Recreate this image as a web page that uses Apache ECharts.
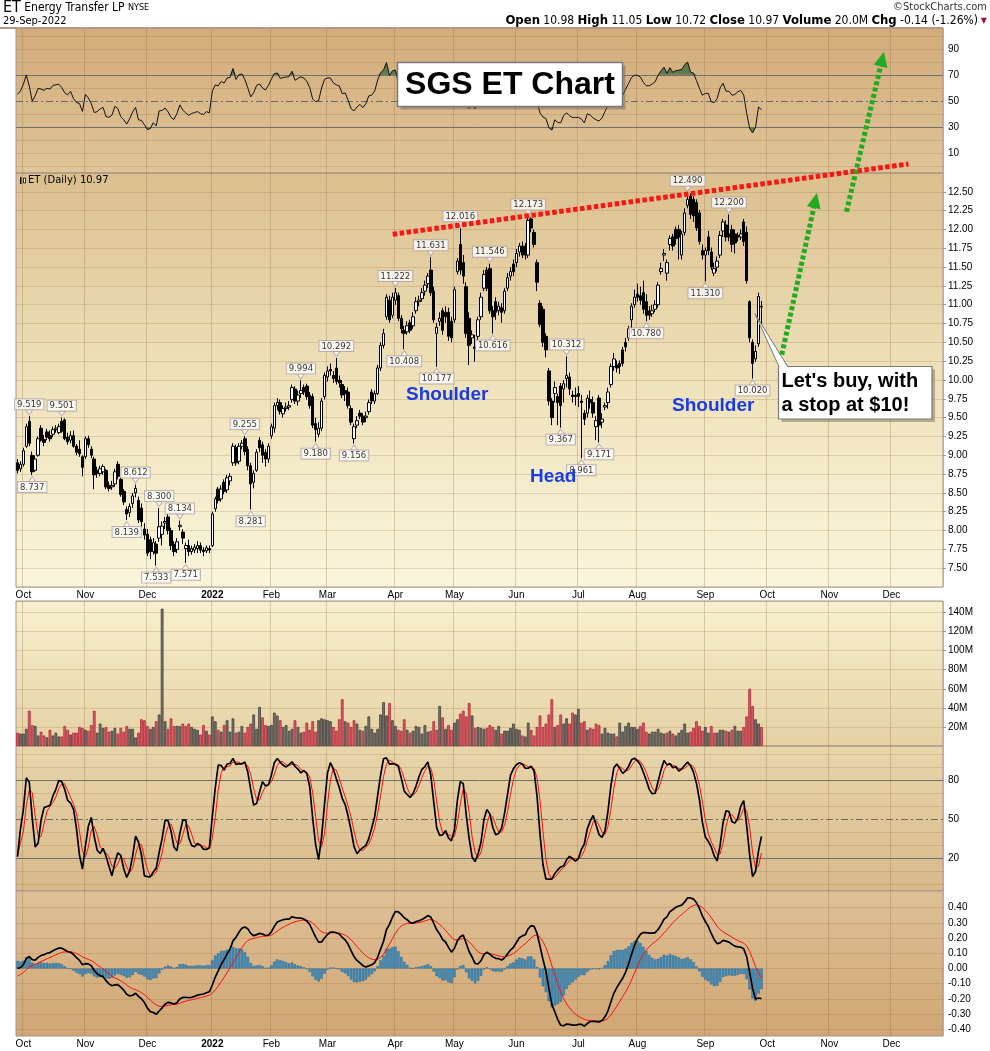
<!DOCTYPE html>
<html><head><meta charset="utf-8">
<script src="https://cdn.jsdelivr.net/npm/echarts@6/dist/echarts.min.js"></script>
<style>html,body{margin:0;padding:0;background:#fff}#c{width:990px;height:1051px}</style>
</head><body><div id="c"></div>
<script>
// ---------------- DATA ----------------
const HOLIDAYS = ['2021-11-25','2021-12-24','2022-01-17','2022-02-21','2022-04-15','2022-05-30','2022-06-20','2022-07-04','2022-09-05','2022-11-24'];
const FIRST_DAY = [2021, 8, 29];       // 29-Sep-2021 (month 0-based)
const N_SLOTS = 314;                   // trading-day slots on the axis (data + empty future)
const MONTHS = ['Jan','Feb','Mar','Apr','May','Jun','Jul','Aug','Sep','Oct','Nov','Dec'];

// candles: [open, close, low, high]
const ohlcSep21 = [[8.90,8.80,8.76,8.95],[8.82,8.88,8.78,8.92]];
const ohlcOct21 = [
[8.88,9.06,8.85,9.10],[9.12,9.38,9.10,9.42],[9.45,9.16,9.12,9.519],[9.00,8.78,8.737,9.05],[8.80,8.95,8.78,9.00],
[9.00,9.22,8.98,9.25],[9.36,9.20,9.18,9.40],[9.21,9.17,9.12,9.27],[9.31,9.24,9.20,9.35],[9.26,9.22,9.18,9.33],
[9.28,9.34,9.24,9.38],[9.34,9.36,9.30,9.40],[9.30,9.38,9.28,9.42],[9.45,9.32,9.30,9.501],[9.47,9.22,9.20,9.49],
[9.24,9.18,9.14,9.30],[9.20,9.26,9.16,9.32],[9.26,9.12,9.10,9.33],[9.12,9.04,9.00,9.15],[9.08,9.02,8.98,9.20],
[8.98,8.84,8.72,9.00]];
const ohlcNov21 = [
[8.98,9.22,8.95,9.25],[9.22,9.14,9.10,9.26],[9.08,9.00,8.96,9.12],[8.95,8.74,8.55,8.98],[8.80,8.76,8.70,8.85],
[8.76,8.82,8.72,8.86],[8.78,8.85,8.74,8.88],[8.80,8.58,8.55,8.82],[8.60,8.56,8.52,8.65],[8.58,8.60,8.54,8.66],
[8.62,8.78,8.58,8.82],[8.88,8.72,8.68,8.92],[8.68,8.48,8.45,8.70],[8.52,8.38,8.34,8.55],[8.28,8.22,8.139,8.32],
[8.24,8.32,8.18,8.36],[8.36,8.46,8.30,8.50],[8.50,8.56,8.44,8.612],[8.40,8.14,8.10,8.45],[8.30,8.12,8.05,8.36],
[8.02,7.94,7.88,8.10]];
const ohlcDec21 = [
[7.95,7.70,7.66,8.02],[7.88,7.72,7.62,7.92],[7.72,7.84,7.68,7.90],[7.82,7.70,7.533,7.86],[7.90,8.05,7.85,8.30],
[7.95,8.06,7.80,8.12],[8.10,8.12,8.02,8.18],[8.18,8.00,7.95,8.22],[8.00,7.80,7.74,8.04],[7.82,7.72,7.66,7.86],
[7.75,7.85,7.70,7.90],[8.05,8.07,8.00,8.134],[7.98,7.90,7.82,8.02],[7.76,7.80,7.571,7.84],[7.80,7.72,7.66,7.88],
[7.72,7.76,7.68,7.80],[7.74,7.78,7.70,7.82],[7.76,7.80,7.70,7.86],[7.80,7.74,7.70,7.84],[7.74,7.72,7.66,7.78],
[7.73,7.77,7.70,7.80],[7.76,7.74,7.70,7.80]];
const ohlcJan22 = [
[7.80,8.22,7.78,8.25],[8.29,8.42,8.25,8.45],[8.55,8.40,8.36,8.58],[8.42,8.55,8.38,8.60],[8.64,8.52,8.48,8.68],
[8.54,8.70,8.50,8.74],[8.66,8.72,8.60,8.76],[8.90,9.12,8.86,9.16],[9.10,8.90,8.86,9.14],[8.92,9.12,8.88,9.16],
[9.12,9.16,9.08,9.20],[9.22,9.05,9.00,9.255],[9.08,8.86,8.80,9.12],[8.86,8.62,8.281,8.90],[8.64,8.76,8.56,8.80],
[8.80,9.04,8.78,9.08],[9.20,9.10,9.04,9.24],[9.14,9.00,8.90,9.18],[9.04,8.95,8.85,9.08],[8.95,9.12,8.90,9.16]];
const ohlcFeb22 = [
[9.26,9.38,9.22,9.42],[9.36,9.66,9.30,9.70],[9.66,9.70,9.60,9.76],[9.70,9.58,9.54,9.74],[9.55,9.62,9.50,9.66],
[9.62,9.64,9.58,9.70],[9.64,9.66,9.60,9.72],[9.74,9.90,9.70,9.94],[9.88,9.72,9.68,9.92],[9.72,9.80,9.66,9.86],
[9.82,9.86,9.76,9.994],[9.90,9.84,9.80,9.94],[9.92,9.78,9.74,9.95],[9.80,9.66,9.62,9.84],[9.78,9.40,9.36,9.82],
[9.42,9.34,9.18,9.50],[9.28,9.36,9.24,9.44],[9.36,9.72,9.32,9.76],[9.78,10.06,9.74,10.10]];
const ohlcMar22 = [
[10.04,10.12,9.98,10.18],[10.14,10.12,10.06,10.22],[10.06,10.02,9.96,10.12],[10.16,9.98,9.94,10.292],[10.00,9.96,9.90,10.06],
[9.94,9.80,9.76,10.00],[9.86,9.82,9.72,9.92],[9.84,9.66,9.62,9.90],[9.62,9.44,9.40,9.66],[9.22,9.38,9.156,9.42],
[9.40,9.46,9.36,9.52],[9.56,9.52,9.48,9.60],[9.52,9.44,9.40,9.56],[9.50,9.52,9.44,9.58],[9.58,9.70,9.54,9.74],
[9.84,9.72,9.68,9.88],[9.72,9.82,9.68,9.86],[9.82,10.16,9.80,10.20],[10.16,10.46,10.12,10.50],[10.46,10.62,10.42,10.68],
[10.84,11.10,10.80,11.14],[11.06,10.80,10.76,11.12],[10.86,11.10,10.82,11.16]];
const ohlcApr22 = [
[11.06,11.16,11.00,11.222],[11.12,10.82,10.78,11.16],[10.82,10.68,10.62,10.86],[10.66,10.62,10.408,10.72],[10.64,10.72,10.60,10.78],
[10.76,10.66,10.62,10.80],[10.72,10.84,10.68,10.90],[10.92,11.04,10.88,11.10],[11.04,11.06,10.98,11.12],[11.08,11.16,11.04,11.22],
[11.18,11.26,11.12,11.32],[11.28,11.38,11.22,11.42],[11.46,11.16,11.12,11.631],[11.18,10.80,10.76,11.24],[10.62,10.70,10.177,10.76],
[10.78,10.82,10.72,10.90],[10.92,10.66,10.60,10.96],[10.90,10.84,10.76,10.98],[10.90,10.58,10.52,10.96],[10.78,10.56,10.50,10.84]];
const ohlcMay22 = [
[10.80,11.20,10.76,11.24],[11.44,11.58,11.40,11.62],[11.80,11.46,11.40,12.016],[11.56,11.38,11.28,11.66],[11.24,10.62,10.56,11.30],
[10.82,10.46,10.20,10.90],[10.56,10.60,10.48,10.66],[10.44,10.42,10.24,10.60],[10.58,10.80,10.52,10.84],[10.84,11.10,10.80,11.16],
[11.22,11.40,11.18,11.46],[11.46,11.22,11.18,11.50],[11.48,10.92,10.88,11.546],[10.92,10.84,10.616,10.98],[11.04,10.90,10.80,11.10],
[10.92,10.98,10.86,11.04],[10.96,10.90,10.76,11.02],[10.92,11.18,10.88,11.22],[11.22,11.36,11.18,11.42],[11.38,11.44,11.32,11.50],
[11.54,11.44,11.38,11.60]];
const ohlcJun22 = [
[11.56,11.68,11.50,11.74],[11.70,11.78,11.64,11.82],[11.78,11.66,11.62,11.84],[11.78,11.66,11.60,11.82],[11.66,12.12,11.62,12.173],
[12.14,12.02,11.96,12.16],[11.96,11.80,11.76,12.00],[11.56,11.30,11.18,11.60],[11.02,10.74,10.70,11.06],[10.94,10.50,10.44,10.98],
[10.58,10.40,10.30,10.62],[10.12,9.72,9.66,10.16],[9.72,9.50,9.40,9.76],[9.82,9.90,9.70,9.98],[9.78,9.70,9.40,9.82],
[9.92,9.66,9.367,9.96],[9.88,9.95,9.70,10.00],[10.02,10.06,9.90,10.312],[10.04,9.88,9.80,10.10],[9.80,9.78,9.70,9.86],
[9.80,9.78,9.66,9.90]];
const ohlcJul22 = [
[9.82,9.78,9.64,9.92],[9.72,9.70,8.961,9.80],[9.56,9.48,9.40,9.60],[9.56,9.76,9.50,9.80],[9.74,9.70,9.62,9.86],
[9.70,9.56,9.50,9.78],[9.38,9.46,9.20,9.52],[9.76,9.40,9.171,9.80],[9.44,9.48,9.36,9.56],[9.64,9.66,9.60,9.70],
[9.70,9.84,9.62,9.90],[9.94,10.18,9.90,10.22],[10.18,10.28,10.12,10.36],[10.20,10.16,10.10,10.26],[10.22,10.18,10.08,10.26],
[10.40,10.22,10.18,10.44],[10.50,10.44,10.38,10.56],[10.56,10.68,10.52,10.72],[10.80,10.98,10.62,11.02],[11.00,11.10,10.96,11.20]];
const ohlcAug22 = [
[11.14,11.10,11.04,11.28],[11.12,11.06,11.00,11.24],[11.16,10.94,10.88,11.32],[11.04,10.86,10.78,11.14],[10.92,10.86,10.80,10.98],
[10.88,10.92,10.84,11.00],[10.94,11.00,10.90,11.06],[11.00,11.26,10.96,11.30],[11.44,11.48,11.40,11.56],[11.66,11.68,11.58,11.74],
[11.42,11.56,11.32,11.60],[11.80,11.88,11.72,11.92],[11.90,11.78,11.72,11.94],[12.00,11.88,11.80,12.04],[12.00,11.90,11.60,12.06],
[11.66,11.94,11.60,11.98],[11.96,12.22,11.92,12.28],[12.32,12.40,12.28,12.49],[12.44,12.20,12.14,12.48],[12.40,12.18,12.10,12.44],
[12.36,12.02,11.98,12.40],[12.22,11.84,11.80,12.26],[11.72,11.66,11.60,11.80]];
const ohlcSep22 = [
[11.66,11.72,11.31,11.76],[11.90,11.72,11.66,11.98],[11.70,11.50,11.46,11.76],[11.42,11.48,11.38,11.56],[11.50,11.58,11.44,11.64],
[11.66,11.92,11.62,11.98],[11.98,12.10,11.90,12.14],[12.06,11.90,11.84,12.12],[11.94,11.90,11.84,12.20],[12.00,11.80,11.70,12.06],
[11.94,11.82,11.68,12.00],[11.92,11.90,11.84,11.96],[11.90,11.94,11.86,12.00],[12.10,11.84,11.78,12.14],[11.96,11.32,11.28,12.04],
[11.04,10.56,10.50,11.06],[10.50,10.22,10.02,10.54],[10.28,10.38,10.24,10.46],[10.48,11.11,10.44,11.16],[10.98,10.97,10.72,11.05]];

// volume, millions, one per trading day
const volumeM = [
14,13,
13,18,37,22,21,11,15,11,9,17,11,14,10,10,21,17,12,14,14,20,19,
17,16,22,37,14,23.5,19,20,15,16,19,13,19,15,21,18,18,9,14,28,27,
21,18,20,26,33,144,26,18,29,21,21,21,23.5,21,23.5,20,18,17,12,22,16,12,
31,26,17,15,22,27,15,29,14,15,21,14,20,23.5,33,18,41,30,22,21,
22,35,32,27,20,22,16,18,27,20,14,15,24.5,17,26,15,27,29,28,
27,26,20,16,28,49,26,24.5,20,27,23.5,17,16,21,31,18,14,18,33,46,32,45,27,
21,17,16,28,17,14,16,21,20,13,22,15,16,26,17,42,30,18,22,17,
24.5,28,34,37,31,45,32,19,20,19,18,19,22,20,17,21,13,16,16,19,23.5,
18,17,11,10,24.5,17,11,20,32,20,23.5,33,49,20,22,33,23.5,29,23.5,35,33,
39,24.5,26,17,19,18,23.5,22,13,19,14,13,13,10,24.5,15,21,24.5,20,20,
18,21,24.5,15,13,15,15,18,14,13,14,16,13,11,14,17,23.5,14,15,19,26,21,16,
20,14,21,14,14,17,17,16,15,17,21,16,16,20,31,60,42,28,23.5,20];

// labelled pivots (day index, price)
const pivotHighIdx = [4,15,40,48,55,77,96,108,128,140,150,160,173,186,227,241];
const pivotHighVal = [9.519,9.501,8.612,8.300,8.134,9.255,9.994,10.292,11.222,11.631,12.016,11.546,12.173,10.312,12.490,12.200];
const pivotLowIdx  = [5,37,47,57,79,101,114,131,142,161,184,191,197,213,233,249];
const pivotLowVal  = [8.737,8.139,7.533,7.571,8.281,9.180,9.156,10.408,10.177,10.616,9.367,8.961,9.171,10.780,11.310,10.020];

// indicator starting states
const RSI_SEED = {gain: 0.055, loss: 0.045};   // RSI ~55 at left edge
const MACD_SIGNAL_SEED = -0.05;                  // signal line at left edge

// annotations in (day index, price)
const necklinePts = [[127.1, 11.936], [301.8, 12.87]];
const arrow1Pts = [[258.9, 10.337], [270.8, 12.483]];
const arrow2Pts = [[280.8, 12.235], [293.5, 14.36]];
const calloutTip = [249.8, 10.88];

// ---------------- BUILD ----------------
function buildDays(){
  const out=[]; const d=new Date(Date.UTC(FIRST_DAY[0],FIRST_DAY[1],FIRST_DAY[2]));
  while(out.length<N_SLOTS){ const w=d.getUTCDay(); const s=d.toISOString().slice(0,10);
    if(w!==0&&w!==6&&!HOLIDAYS.includes(s)) out.push(s); d.setUTCDate(d.getUTCDate()+1); }
  return out;
}
const days = buildDays();
const monthStart = new Set();
for(let i=1;i<days.length;i++) if(days[i].slice(5,7)!==days[i-1].slice(5,7)) monthStart.add(i);
const isMS = (i)=>monthStart.has(i);

const candles = [].concat(ohlcSep21,ohlcOct21,ohlcNov21,ohlcDec21,ohlcJan22,ohlcFeb22,ohlcMar22,ohlcApr22,ohlcMay22,ohlcJun22,ohlcJul22,ohlcAug22,ohlcSep22);
const closes = candles.map(c=>c[1]);
const lows = candles.map(c=>c[2]);
const highs = candles.map(c=>c[3]);

// RSI 14 (Wilder)
const rsi=[]; {let g=RSI_SEED.gain,l=RSI_SEED.loss;
  for(let i=0;i<closes.length;i++){ if(i>0){const ch=closes[i]-closes[i-1]; g=(g*13+Math.max(ch,0))/14; l=(l*13+Math.max(-ch,0))/14;} rsi.push(100-100/(1+g/l)); }}
// Slow stochastic 14,3
const fastK=[], slowK=[], slowD=[];
for(let i=0;i<closes.length;i++){ const a=Math.max(0,i-13); let hh=-1e9,ll=1e9;
  for(let j=a;j<=i;j++){hh=Math.max(hh,highs[j]); ll=Math.min(ll,lows[j]);}
  fastK.push(hh>ll?100*(closes[i]-ll)/(hh-ll):50); }
const sma3=(arr,i)=>{const a=Math.max(0,i-2); let s=0; for(let j=a;j<=i;j++) s+=arr[j]; return s/(i-a+1);};
for(let i=0;i<closes.length;i++) slowK.push(sma3(fastK,i));
for(let i=0;i<closes.length;i++) slowD.push(sma3(slowK,i));
// MACD 12,26,9
const macd=[], signal=[], hist=[]; {let e12=closes[0], e26=closes[0], sg=MACD_SIGNAL_SEED;
  for(let i=0;i<closes.length;i++){ if(i>0){ e12+= (2/13)*(closes[i]-e12); e26+=(2/27)*(closes[i]-e26);} const m=e12-e26; if(i>0) sg+=(2/10)*(m-sg);
    macd.push(m); signal.push(sg); hist.push(m-sg);} }

// ---------------- STYLE ----------------
const AX = "'Liberation Sans', Arial, sans-serif";
const NARROW = "'Liberation Sans Narrow','DejaVu Sans Condensed','Liberation Sans',sans-serif";
const lg=(stops)=>new echarts.graphic.LinearGradient(0,0,0,1,stops.map((c,k)=>({offset:k/(stops.length-1),color:c})));
const GRID_L=16, GRID_R=47;
const panels=[
  {top:28,height:145,bg:['#d3ab7a','#dfc598']},
  {top:173,height:414,bg:['#dbbf8e','#efe2bb','#f9f5db']},
  {top:601,height:145,bg:['#f7f0ce','#e5d1a4']},
  {top:746,height:145,bg:['#e8d6ab','#d8b98a']},
  {top:891,height:145,bg:['#dec096','#d0a674']}
];
const LIGHT='rgba(150,110,65,0.22)';
const grids = panels.map(p=>({left:GRID_L,right:GRID_R,top:p.top,height:p.height,show:true,backgroundColor:lg(p.bg),borderColor:'#a8938a',borderWidth:1}));
const xAxes = panels.map((p,g)=>({
  type:'category', gridIndex:g, data:days, boundaryGap:true,
  axisLine:{show:false}, axisTick:{show:false},
  axisLabel:{show:g===1||g===4, interval:(i)=>isMS(i), margin:3, color:'#000', fontSize:10, fontFamily:AX,
    formatter:(v)=>{const m=+v.slice(5,7); return m===1?'{b|'+v.slice(0,4)+'}':MONTHS[m-1];},
    rich:{b:{fontWeight:'bold',fontSize:10,fontFamily:AX,color:'#000'}}},
  splitLine:{show:true, interval:(i)=>isMS(i), lineStyle:{color:'rgba(140,100,60,0.28)',width:1}}
}));
const plainY=(g,min,max)=>({type:'value',gridIndex:g,min,max,position:'right',axisLabel:{show:false},splitLine:{show:false},axisLine:{show:false},axisTick:{show:false}});
const yAxes=[
  plainY(0,-5.4,106),
  {type:'value',gridIndex:1,min:7.25,max:12.75,interval:0.25,position:'right',
   axisLabel:{formatter:(v)=>v.toFixed(2),fontSize:10,color:'#000',margin:5,fontFamily:AX,showMinLabel:false,showMaxLabel:false},
   splitLine:{lineStyle:{color:LIGHT}},axisLine:{show:false},axisTick:{show:true,length:3,lineStyle:{color:'#999'}}},
  {type:'value',gridIndex:2,min:0,max:152,interval:20,position:'right',
   axisLabel:{formatter:(v)=>v+'M',fontSize:10,color:'#000',margin:5,fontFamily:AX,showMinLabel:false,showMaxLabel:false},
   splitLine:{lineStyle:{color:LIGHT}},axisLine:{show:false},axisTick:{show:true,length:3,lineStyle:{color:'#999'}}},
  plainY(3,-5.4,106.2),
  plainY(4,-0.444,0.51)
];

function levelLines(levels, kind, labelOf){
  return {silent:true, symbol:['none','none'], z:1, animation:false,
    data: levels.map(v=>{
      const k=kind(v);
      const ls = k==='dark'?{color:'#707070',width:1,type:'solid'}:k==='dash'?{color:'#6a6a6a',width:1,type:[7,3,2,3]}:{color:LIGHT,width:1,type:'solid'};
      const lab=labelOf(v);
      return {yAxis:v, lineStyle:ls, label:{show:lab!==null, formatter:lab===null?'':lab, position:'end', distance:5, color:'#000', fontSize:10, fontFamily:AX}};
    })};
}
const rsiLines = levelLines([0,10,20,30,40,50,60,70,80,90,100], v=>v===30||v===70?'dark':v===50?'dash':'light', v=>[10,30,50,70,90].includes(v)?String(v):null);
const stoLines = levelLines([0,10,20,30,40,50,60,70,80,90,100], v=>v===20||v===80?'dark':v===50?'dash':'light', v=>[20,50,80].includes(v)?String(v):null);
const macdLevels=[-0.4,-0.3,-0.2,-0.1,0,0.1,0.2,0.3,0.4];
const macdLines = levelLines(macdLevels, v=>'light', v=>v.toFixed(2));

const OB='#5f7a4c';
const isDown=(i)=>i===0?closes[0]<candles[0][0]:closes[i]<closes[i-1];
const volumeItems = volumeM.map((v,i)=>({value:v, itemStyle: isDown(i)?{color:'#d45c66',borderColor:'#b32a38'}:{color:'#77726c',borderColor:'#44403d'}}));
const series=[
  {type:'line',xAxisIndex:0,yAxisIndex:0,stack:'ob',data:rsi.map(()=>70),symbol:'none',lineStyle:{opacity:0},silent:true},
  {type:'line',xAxisIndex:0,yAxisIndex:0,stack:'ob',data:rsi.map(v=>Math.max(v-70,0)),symbol:'none',lineStyle:{opacity:0},areaStyle:{color:OB,opacity:1},silent:true},
  {type:'line',xAxisIndex:0,yAxisIndex:0,stack:'os',data:rsi.map(v=>Math.min(v,30)),symbol:'none',lineStyle:{opacity:0},silent:true},
  {type:'line',xAxisIndex:0,yAxisIndex:0,stack:'os',data:rsi.map(v=>30-Math.min(v,30)),symbol:'none',lineStyle:{opacity:0},areaStyle:{color:OB,opacity:1},silent:true},
  {type:'line',xAxisIndex:0,yAxisIndex:0,data:rsi,symbol:'none',lineStyle:{color:'#111',width:1},z:3,markLine:rsiLines},
  {type:'candlestick',xAxisIndex:1,yAxisIndex:1,data:candles,barWidth:3,z:3,
   itemStyle:{color:'#ffffff',color0:'#000000',borderColor:'#000000',borderColor0:'#000000',borderWidth:1}},
  {type:'scatter',xAxisIndex:1,yAxisIndex:1,z:6,data:pivotHighIdx.map((ix,k)=>[ix,pivotHighVal[k]]),
   symbol:'triangle',symbolRotate:180,symbolSize:[7,5],symbolOffset:[0,-4],itemStyle:{color:'#fff',borderColor:'#b3a3a3',borderWidth:1},
   label:{show:true,position:'top',distance:0,formatter:(p)=>p.value[1].toFixed(3),backgroundColor:'#fff',borderColor:'#b3a3a3',borderWidth:1,padding:[1,2,0,2],fontSize:8.5,fontFamily:"'DejaVu Sans',Verdana,sans-serif",color:'#000'}},
  {type:'scatter',xAxisIndex:1,yAxisIndex:1,z:6,data:pivotLowIdx.map((ix,k)=>[ix,pivotLowVal[k]]),
   symbol:'triangle',symbolSize:[7,5],symbolOffset:[0,4],itemStyle:{color:'#fff',borderColor:'#b3a3a3',borderWidth:1},
   label:{show:true,position:'bottom',distance:0,formatter:(p)=>p.value[1].toFixed(3),backgroundColor:'#fff',borderColor:'#b3a3a3',borderWidth:1,padding:[1,2,0,2],fontSize:8.5,fontFamily:"'DejaVu Sans',Verdana,sans-serif",color:'#000'}},
  {type:'bar',xAxisIndex:2,yAxisIndex:2,data:volumeItems,barCategoryGap:'8%',z:3,itemStyle:{borderWidth:0.8}},
  {type:'line',xAxisIndex:3,yAxisIndex:3,data:slowK,symbol:'none',lineStyle:{color:'#000',width:1.7},z:4,markLine:stoLines},
  {type:'line',xAxisIndex:3,yAxisIndex:3,data:slowD,symbol:'none',lineStyle:{color:'#ff1010',width:1},z:3},
  {type:'bar',xAxisIndex:4,yAxisIndex:4,data:hist,barCategoryGap:'15%',z:2,itemStyle:{color:'#3f8fc1',borderColor:'#1d5b86',borderWidth:0.4}},
  {type:'line',xAxisIndex:4,yAxisIndex:4,data:macd,symbol:'none',lineStyle:{color:'#000',width:1.7},z:4,markLine:macdLines},
  {type:'line',xAxisIndex:4,yAxisIndex:4,data:signal,symbol:'none',lineStyle:{color:'#ff1010',width:1},z:3}
];

const chart = echarts.init(document.getElementById('c'));
chart.setOption({animation:false, backgroundColor:'#fff', grid:grids, xAxis:xAxes, yAxis:yAxes, series});

// ---------------- ANNOTATIONS ----------------
function P(ix,p){const i0=Math.floor(ix), f=ix-i0;
  const a=chart.convertToPixel({gridIndex:1},[i0,p]); const b=chart.convertToPixel({gridIndex:1},[i0+1,p]);
  return [a[0]+(b[0]-a[0])*f, a[1]];}
function dottedArrow(a,b,color){
  const dx=b[0]-a[0], dy=b[1]-a[1], len=Math.hypot(dx,dy), ux=dx/len, uy=dy/len, hl=15, hw=7;
  const base=[b[0]-ux*hl, b[1]-uy*hl];
  return [
    {type:'line',z:100,shape:{x1:a[0],y1:a[1],x2:base[0]+ux*2,y2:base[1]+uy*2},style:{stroke:color,lineWidth:5,lineDash:[4,2.5]}},
    {type:'polygon',z:101,shape:{points:[b,[base[0]-uy*hw,base[1]+ux*hw],[base[0]+uy*hw,base[1]-ux*hw]]},style:{fill:color}}
  ];
}
const n0=P(...necklinePts[0]), n1=P(...necklinePts[1]);
const tip=P(...calloutTip);
const G=[];
// header
G.push({type:'text',left:3,top:0,z:200,style:{text:'{a|ET} {b|Energy Transfer LP} {c|NYSE}',rich:{
  a:{font:"16px "+NARROW,fill:'#000'},b:{font:"12px "+NARROW,fill:'#000'},c:{font:"9px "+NARROW,fill:'#000'}}}});
G.push({type:'text',left:3,top:16,z:200,style:{text:'29-Sep-2022',font:"11px "+NARROW,fill:'#000'}});
G.push({type:'text',right:3,top:2,z:200,style:{text:'©StockCharts.com',font:"11px "+NARROW,fill:'#333'}});
G.push({type:'text',right:12,top:14,z:200,style:{text:'{l|Open} {v|10.98} {l|High} {v|11.05} {l|Low} {v|10.72} {l|Close} {v|10.97} {l|Volume} {v|20.0M} {l|Chg} {v|-0.14 (-1.26%)}',rich:{
  l:{font:"bold 13px "+NARROW,fill:'#000'},v:{font:"12px "+NARROW,fill:'#000'}}}});
G.push({type:'text',right:3,top:17,z:200,style:{text:'▼',font:"8px 'DejaVu Sans',sans-serif",fill:'#9b1040'}});
G.push({type:'line',z:200,shape:{x1:0,y1:28,x2:943,y2:28},style:{stroke:'#b09a88',lineWidth:2}});
// price panel title
G.push({type:'rect',z:150,shape:{x:20,y:177,width:1.5,height:7},style:{fill:'#000'}});
G.push({type:'rect',z:150,shape:{x:23.5,y:178,width:2,height:5},style:{fill:'#fff',stroke:'#000',lineWidth:0.8}});
G.push({type:'text',left:28,top:175,z:150,style:{text:'ET (Daily) 10.97',font:"10px 'DejaVu Sans',Verdana,sans-serif",fill:'#000'}});
// neckline
G.push({type:'line',z:100,shape:{x1:n0[0],y1:n0[1],x2:n1[0],y2:n1[1]},style:{stroke:'#ff1414',lineWidth:5,lineDash:[4.5,2.5]}});
G.push(...dottedArrow(P(...arrow1Pts[0]),P(...arrow1Pts[1]),'#22aa22'));
G.push(...dottedArrow(P(...arrow2Pts[0]),P(...arrow2Pts[1]),'#22aa22'));
// pattern labels
const BLUE='#1b3be4';
G.push({type:'text',left:406,top:385,z:120,style:{text:'Shoulder',font:"bold 19px "+AX,fill:BLUE}});
G.push({type:'text',left:530,top:467,z:120,style:{text:'Head',font:"bold 19px "+AX,fill:BLUE}});
G.push({type:'text',left:672,top:396,z:120,style:{text:'Shoulder',font:"bold 19px "+AX,fill:BLUE}});
// title box
G.push({type:'rect',z:120,shape:{x:400.5,y:65.5,width:225,height:44},style:{fill:'rgba(110,95,80,0.45)'}});
G.push({type:'rect',z:121,shape:{x:397.5,y:62.5,width:225,height:44},style:{fill:'#fff',stroke:'#7a7a7a',lineWidth:1.5}});
G.push({type:'text',z:122,x:510,y:85,style:{text:'SGS ET Chart',font:"bold 32px "+AX,fill:'#000',align:'center',verticalAlign:'middle'}});
// callout
G.push({type:'rect',z:120,shape:{x:781.5,y:369.5,width:153.5,height:52.5},style:{fill:'rgba(110,95,80,0.45)'}});
G.push({type:'rect',z:121,shape:{x:778.5,y:366.5,width:153.5,height:52.5},style:{fill:'#fff',stroke:'#7a7a7a',lineWidth:1.2}});
G.push({type:'polygon',z:122,shape:{points:[tip,[779.5,368],[788,368]]},style:{fill:'#fff'}});
G.push({type:'polyline',z:123,shape:{points:[[779.2,367],tip,[788,367]]},style:{stroke:'#7a7a7a',lineWidth:1,fill:null}});
G.push({type:'text',z:124,x:781.5,y:381,style:{text:"Let's buy, with",font:"bold 20px "+AX,fill:'#000',verticalAlign:'middle'}});
G.push({type:'text',z:124,x:781.5,y:405,style:{text:'a stop at $10!',font:"bold 20px "+AX,fill:'#000',verticalAlign:'middle'}});

chart.setOption({graphic:G});
</script></body></html>
